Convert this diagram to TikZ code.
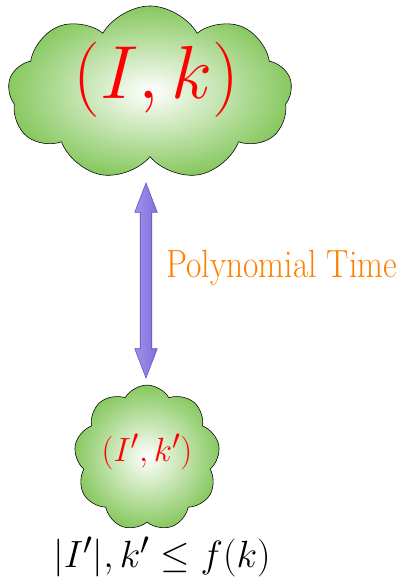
\documentclass[tikz,border=0pt]{standalone}
\usepackage{amsmath}
\usepackage{amssymb}
\usepackage{graphicx}
\usetikzlibrary{shapes.symbols,shapes.arrows,positioning,calc}
\definecolor{cloudgreen}{RGB}{135,200,95}
\definecolor{arrowlight}{RGB}{190,178,248}
\definecolor{arrowmid}{RGB}{160,145,235}
\definecolor{arrowdark}{RGB}{130,110,220}
\definecolor{arrowedge}{RGB}{100,80,190}

\begin{document}
\begin{tikzpicture}[
    x=0.025cm, y=-0.025cm,
    cloudbox/.style={draw, cloud, cloud puffs=9, cloud puff arc=120, inner color=white, outer color=cloudgreen, inner sep=0pt},
    linkarrow/.style={draw=arrowedge, double arrow, double arrow head extend=3.9pt, double arrow tip angle=42, inner sep=3.9pt, left color=arrowmid, middle color=arrowlight, right color=arrowdark, shape border rotate=90}
]
    \useasboundingbox (0,0) rectangle (401,577);

    % Instances
    \node[cloudbox, aspect=1.67, minimum width=7.1cm, minimum height=4.35cm] (big) at (150,93) {\raisebox{-4pt}[0pt][0pt]{\makebox[0pt]{\hspace{9pt}\scalebox{2.15}{\Huge$\color{red}(I,k)$}}}};
    \node[cloudbox, aspect=1, minimum width=3.525cm, minimum height=3.5cm] (small) at (147,458) {\raisebox{-2.5pt}[0pt][0pt]{\scalebox{0.96}{\Huge$\color{red}(I',k')$}}};

    % Reduction
    \node[linkarrow, minimum height=4.875cm, minimum width=0.55cm] (link) at (146,280.5) {};
    \node[anchor=west, text=orange, inner sep=0pt] (label) at (166,268) {\scalebox{0.85}[1]{\fontsize{28}{30}\selectfont Polynomial Time}};

    % Size bound
    \node[inner sep=0pt] (bound) at (162,557) {\scalebox{1.085}{\Huge$|I'|, k' \le f(k)$}};
\end{tikzpicture}
\end{document}
